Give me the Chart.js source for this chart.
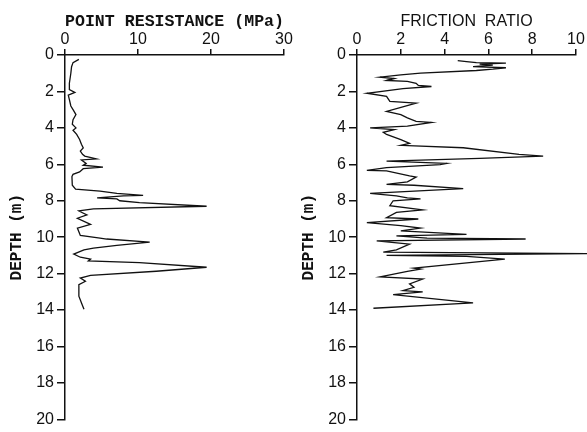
<!DOCTYPE html>
<html>
<head>
<meta charset="utf-8">
<script src="https://cdn.jsdelivr.net/npm/chart.js@4/dist/chart.umd.min.js"></script>
<style>
  html, body { margin: 0; padding: 0; background: #fff; }
  #wrap { position: relative; width: 587px; height: 432px; overflow: hidden; }
  canvas { position: absolute; top: 0; }
  #qcChart { left: 0; }
  #frChart { left: 292px; }
</style>
</head>
<body>
<div id="wrap">
  <canvas id="qcChart" width="295" height="432"></canvas>
  <canvas id="frChart" width="295" height="432"></canvas>
</div>
<script>
// cone sounding log: depth (m) vs point resistance (MPa)
const qcDepth = [0.24, 0.42, 0.64, 1.0, 1.55, 1.9, 2.05, 2.2, 2.45, 2.8, 3.0, 3.27, 3.55, 3.8, 4.0, 4.13,
  4.36, 4.64, 4.9, 5.1, 5.27, 5.45, 5.55, 5.7, 5.76, 5.95, 6.05, 6.15, 6.24, 6.42, 6.55, 6.67,
  7.15, 7.36, 7.47, 7.6, 7.7, 7.73, 7.84, 7.9, 8.0, 8.1, 8.3, 8.45, 8.56, 8.78, 8.96, 9.3, 9.5,
  9.9, 10.05, 10.1, 10.27, 10.45, 10.6, 10.7, 10.93, 11.1, 11.2, 11.3, 11.4, 11.65, 11.87,
  12.1, 12.24, 12.42, 12.6, 13.24, 13.65, 13.96];
const qcValue = [1.9, 1.1, 0.9, 0.8, 0.6, 0.6, 1.35, 0.45, 0.6, 0.8, 1.1, 1.5, 1.1, 1.0, 1.5, 1.1,
  1.6, 2.0, 2.25, 2.5, 2.1, 2.4, 2.7, 4.3, 2.25, 2.9, 2.5, 5.2, 2.5, 2.0, 1.1, 0.95,
  1.0, 1.45, 4.8, 7.1, 10.7, 8.0, 4.4, 7.1, 7.5, 10.2, 19.4, 3.9, 1.9, 3.0, 1.7, 3.5, 1.7,
  2.1, 4.8, 5.7, 11.6, 7.1, 3.9, 2.6, 1.2, 2.1, 3.5, 3.2, 10.2, 19.4, 12.5,
  3.5, 2.1, 2.8, 1.9, 1.9, 2.3, 2.6];

// friction ratio (%) vs depth (m)
const frDepth = [0.31, 0.36, 0.42, 0.45, 0.5, 0.56, 0.64, 0.7, 0.78, 0.85, 1.0, 1.09, 1.22, 1.29, 1.4,
  1.45, 1.55, 1.67, 1.73, 1.84, 2.1, 2.27, 2.55, 2.64, 3.1, 3.27, 3.45, 3.64, 3.7, 3.9, 4.0,
  4.1, 4.24, 4.36, 4.64, 4.85, 4.96, 5.09, 5.45, 5.55, 5.67, 5.82, 5.95, 6.02, 6.18, 6.33,
  6.36, 6.64, 6.7, 6.96, 7.1, 7.15, 7.33, 7.6, 7.73, 7.84, 7.9, 8.0, 8.27, 8.5, 8.64, 8.93,
  9.0, 9.2, 9.36, 9.5, 9.65, 9.84, 9.93, 10.05, 10.1, 10.2, 10.38, 10.7, 10.82, 10.9, 11.0,
  11.05, 11.2, 11.7, 11.75, 11.87, 12.18, 12.3, 12.56, 12.75, 12.93, 13.0, 13.15, 13.6, 13.9];
const frValue = [4.6, 5.0, 5.45, 6.8, 5.6, 6.2, 5.3, 6.8, 6.2, 5.45, 2.9, 2.0, 1.05, 1.7, 1.35,
  2.3, 2.7, 2.8, 3.4, 2.1, 0.45, 1.35, 1.5, 2.7, 1.35, 2.0, 2.3, 2.7, 3.4, 2.3, 0.6,
  1.7, 1.2, 1.35, 2.0, 2.4, 2.0, 4.85, 7.4, 8.5, 5.6, 1.35, 4.1, 3.8, 1.35, 0.45,
  1.35, 2.4, 2.7, 2.3, 1.35, 2.6, 4.85, 0.6, 1.8, 2.3, 2.9, 1.65, 1.5, 3.0, 1.8, 1.35,
  2.8, 0.45, 2.0, 2.9, 2.0, 5.0, 1.8, 3.2, 7.7, 0.9, 2.4, 1.8, 1.2, 10.6, 1.35,
  5.0, 6.75, 2.6, 2.9, 2.3, 1.05, 3.0, 2.4, 2.6, 2.1, 3.0, 1.65, 5.3, 0.75];

const depthTicks = [0, 2, 4, 6, 8, 10, 12, 14, 16, 18, 20];

const ink = '#111';
const sans = 'Liberation Sans, Arial, sans-serif';
const mono = 'Liberation Mono, Courier New, monospace';

function pairs(xs, ys) {
  return xs.map((d, i) => ({ x: ys[i], y: d }));
}

function makeLog(id, values, depths, xMax, xStep, xTitle, titleFont) {
  const ctx = document.getElementById(id).getContext('2d');
  return new Chart(ctx, {
    type: 'scatter',
    data: {
      datasets: [{
        data: pairs(depths, values),
        showLine: true,
        borderColor: ink,
        borderWidth: 1.3,
        pointRadius: 0,
        tension: 0,
        clip: false
      }]
    },
    options: {
      responsive: false,
      devicePixelRatio: 1,
      animation: false,
      layout: { padding: { left: 0, right: 11, top: 0, bottom: 11 } },
      plugins: { legend: { display: false }, tooltip: { enabled: false } },
      scales: {
        x: {
          type: 'linear',
          position: 'top',
          min: 0,
          max: xMax,
          afterFit: s => { s.height = 55; },
          ticks: { stepSize: xStep, color: ink, padding: 0, font: { family: sans, size: 16 } },
          grid: { drawOnChartArea: false, tickLength: 6, color: ink, lineWidth: 1.5 },
          border: { color: ink, width: 1.5 },
          title: { display: true, text: xTitle, color: ink, font: titleFont, padding: { top: 12, bottom: 0 } }
        },
        y: {
          type: 'linear',
          reverse: true,
          min: 0,
          max: 20,
          afterFit: s => { s.width = 65; },
          afterBuildTicks: s => { s.ticks = depthTicks.map(v => ({ value: v })); },
          ticks: { color: ink, padding: 3, font: { family: sans, size: 16 } },
          grid: { drawOnChartArea: false, tickLength: 8, color: ink, lineWidth: 1.5 },
          border: { color: ink, width: 1.5 },
          title: { display: true, text: 'DEPTH (m)', color: ink, padding: { top: 7, bottom: 0 },
            font: { family: mono, size: 16, weight: 'bold' } }
        }
      }
    }
  });
}

makeLog('qcChart', qcValue, qcDepth, 30, 10, 'POINT RESISTANCE (MPa)',
  { family: mono, size: 17, weight: 'bold' });
makeLog('frChart', frValue, frDepth, 10, 2, 'FRICTION  RATIO',
  { family: sans, size: 16 });
</script>
</body>
</html>
